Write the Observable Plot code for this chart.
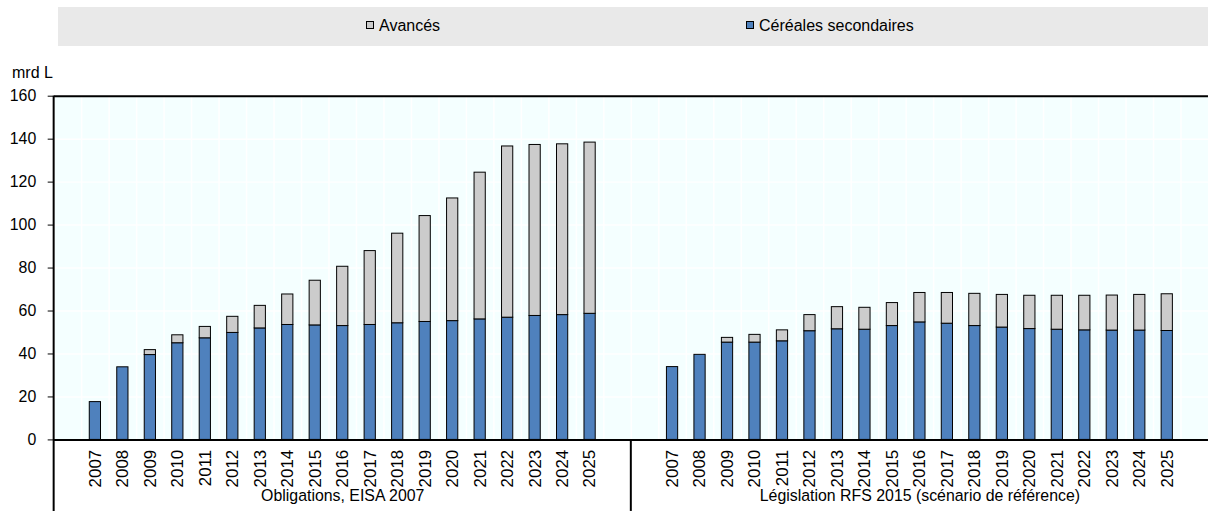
<!DOCTYPE html>
<html>
<head>
<meta charset="utf-8">
<script src="https://cdn.jsdelivr.net/npm/d3@7"></script>
<script src="https://cdn.jsdelivr.net/npm/@observablehq/plot@0.6"></script>
<style>
  html, body { margin: 0; padding: 0; background: #fff; overflow: hidden; }
  body { width: 1208px; height: 514px; position: relative; font-family: Arial, "Liberation Sans", sans-serif; color: #000; }
  #legend { position: absolute; left: 58px; top: 7px; width: 1150px; height: 39px; background: #E9E9E9; font-size: 16px; }
  #legend .item { position: absolute; top: 10px; line-height: 18px; white-space: nowrap; }
  #legend .sw { display: inline-block; width: 6px; height: 6px; border: 1px solid #000; margin-right: 5px; vertical-align: 2px; }
  #unit { position: absolute; left: 12px; top: 64px; font-size: 16px; line-height: 18px; }
  #chart { position: absolute; left: 0; top: 50px; }
</style>
</head>
<body>
<div id="legend"></div>
<div id="unit">mrd L</div>
<div id="chart"></div>
<script>
// ---- Data ----
const years = ["2007","2008","2009","2010","2011","2012","2013","2014","2015","2016","2017","2018","2019","2020","2021","2022","2023","2024","2025"];
const scenarios = ["Obligations, EISA 2007", "Législation RFS 2015 (scénario de référence)"];
const seriesNames = ["Céréales secondaires", "Avancés"];
const seriesColors = ["#4F81BD", "#CCCCCC"];
const legendOrder = ["Avancés", "Céréales secondaires"];
const yTicks = [0, 20, 40, 60, 80, 100, 120, 140, 160];

// EISA 2007 obligations
const eisaCereal   = [17.6, 33.8, 39.5, 45.0, 47.3, 49.8, 51.9, 53.5, 53.3, 53.0, 53.5, 54.3, 54.9, 55.3, 56.1, 56.9, 57.7, 58.1, 58.7];
const eisaAdvanced = [0, 0, 2.3, 3.7, 5.3, 7.5, 10.5, 14.2, 20.8, 27.6, 34.4, 41.7, 49.3, 57.1, 68.3, 79.7, 79.6, 79.5, 79.7];
// RFS 2015 legislation (baseline)
const rfsCereal    = [33.9, 39.6, 45.3, 45.3, 45.9, 50.6, 51.5, 51.3, 53.0, 54.7, 54.1, 53.0, 52.3, 51.6, 51.3, 51.0, 50.9, 50.9, 50.7];
const rfsAdvanced  = [0, 0, 2.2, 3.6, 5.1, 7.5, 10.3, 10.2, 10.7, 13.7, 14.3, 15.0, 15.2, 15.5, 15.8, 16.1, 16.3, 16.6, 17.1];

// ---- Legend ----
const legendPos = { "Avancés": 308, "Céréales secondaires": 688 };
const legend = document.getElementById("legend");
legendOrder.forEach(name => {
  const item = document.createElement("span");
  item.className = "item";
  item.style.left = legendPos[name] + "px";
  const sw = document.createElement("span");
  sw.className = "sw";
  sw.style.background = seriesColors[seriesNames.indexOf(name)];
  item.appendChild(sw);
  item.appendChild(document.createTextNode(name));
  legend.appendChild(item);
});

// ---- Build table ----
const groups = [
  { key: "L", label: scenarios[0], cereal: eisaCereal, advanced: eisaAdvanced },
  { key: "R", label: scenarios[1], cereal: rfsCereal, advanced: rfsAdvanced }
];
const xDomain = [];
const yearKeys = [];
const rows = [];
groups.forEach(g => {
  xDomain.push(g.key + ":pre");
  years.forEach((y, i) => {
    const k = g.key + ":" + y;
    xDomain.push(k);
    yearKeys.push(k);
    rows.push({ x: k, series: seriesNames[0], value: g.cereal[i] });
    rows.push({ x: k, series: seriesNames[1], value: g.advanced[i] });
  });
  xDomain.push(g.key + ":post");
});
const groupLabels = groups.map(g => ({ x: g.key + ":" + years[Math.floor(years.length / 2)], label: g.label }));

const W = 1216, H = 464, mL = 54, mR = 0, mT = 46, mB = 72;
const step = (W - mL - mR) / xDomain.length;
const inset = (step - 11.3) / 2;

const chart = Plot.plot({
  width: W, height: H,
  marginLeft: mL, marginRight: mR, marginTop: mT, marginBottom: mB,
  style: { fontFamily: "Arial, 'Liberation Sans', sans-serif", fontSize: "16px", color: "#000", background: "transparent", overflow: "visible" },
  x: { type: "band", domain: xDomain, padding: 0, round: false },
  y: { domain: [0, 160] },
  color: { domain: seriesNames, range: seriesColors },
  marks: [
    Plot.frame({ fill: "#F4FFFF", stroke: "none" }),
    Plot.gridY(yTicks, { stroke: "#fff", strokeOpacity: 1, strokeWidth: 1.5 }),
    Plot.ruleX(xDomain, { dx: -step / 2, stroke: "#fff", strokeOpacity: 1, strokeWidth: 1.5 }),
    Plot.barY(rows.filter(d => d.value > 0), Plot.stackY({
      x: "x", y: "value", fill: "series", stroke: "#000", strokeWidth: 1,
      insetLeft: inset, insetRight: inset
    })),
    Plot.ruleY([160], { stroke: "#000", strokeWidth: 2 }),
    Plot.ruleY([0], { stroke: "#000", strokeWidth: 2 }),
    Plot.axisY(yTicks, { tickSize: 6, tickPadding: 12, fontSize: 16, label: null }),
    Plot.axisX(yearKeys, {
      tickSize: 0, tickPadding: 10, tickRotate: -90, fontSize: 17, label: null,
      tickFormat: d => d.split(":")[1]
    }),
    Plot.text(groupLabels, { x: "x", text: "label", frameAnchor: "bottom", dy: 61, fontSize: 16 })
  ]
});

document.getElementById("chart").appendChild(chart);

// Structural lines: left border (extending through the category band) and group separator
const sx = chart.scale("x");
const svg = d3.select(chart);
const sepX = sx.apply(groups[1].key + ":pre");
svg.append("line")
  .attr("x1", mL).attr("x2", mL).attr("y1", mT).attr("y2", H)
  .attr("stroke", "#000").attr("stroke-width", 2);
svg.append("line")
  .attr("x1", sepX).attr("x2", sepX).attr("y1", H - mB).attr("y2", H)
  .attr("stroke", "#000").attr("stroke-width", 2);
</script>
</body>
</html>
